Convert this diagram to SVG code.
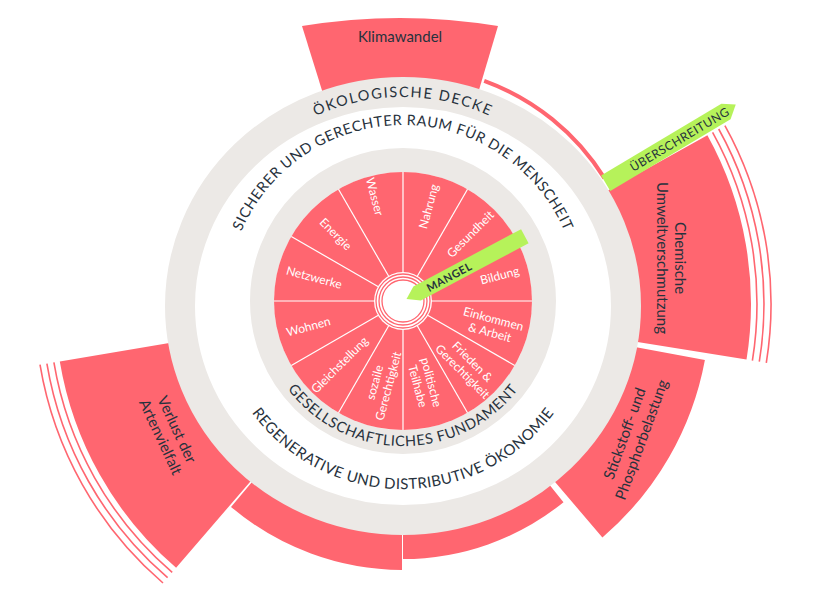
<svg xmlns="http://www.w3.org/2000/svg" width="813" height="600" viewBox="0 0 813 600">
<style>
.red{fill:#FF6670}
.ln{fill:none;stroke:#FF6670;stroke-width:1.6}
.dk{fill:#27323d;font-family:Lato,"Open Sans",sans-serif}
.wt{fill:#fff;font-family:Lato,"Open Sans",sans-serif;font-size:12px;text-anchor:middle;dominant-baseline:central}
.sep{stroke:#fff;stroke-width:1.2}
</style>
<rect width="813" height="600" fill="#fff"/>
<g id="boundaries">
<path id="klima" class="red" d="M302,26 A600,600 0 0 1 498,26 L476,100 L325,100 Z"/>
<path class="ln" d="M484.2,80.8 A237.5,237.5 0 0 1 604.4,178.1" style="stroke-width:4"/>
<path id="chem" class="red" d="M599.8,194.9 L707.4,135.3 A348,348 0 0 1 746.5,359.6 L625.1,340 A225,225 0 0 0 599.8,194.9 Z"/>
<path class="ln" d="M712.6,132.4 A354,354 0 0 1 752.4,360.6"/>
<path class="ln" d="M718.7,129 A361,361 0 0 1 759.3,361.7"/>
<path class="ln" d="M724.9,125.6 A368,368 0 0 1 766.3,362.8"/>
<path id="stick" class="red" d="M624.2,345 L704.9,359.9 A307,307 0 0 1 602.4,537.4 L549.1,475.1 A225,225 0 0 0 624.2,345 Z"/>
<path class="red" d="M544.6,478.8 L563.5,502.2 A255,255 0 0 1 403,559 L403,529 A225,225 0 0 0 544.6,478.8 Z"/>
<path class="red" d="M402,529 L402,570 A266,266 0 0 1 231,506.9 L257.5,475.6 A225,225 0 0 0 402,529 Z"/>
<path id="verlust" class="red" d="M256.3,474.6 L176.1,567.8 A348,348 0 0 1 59.8,361.4 L181.1,341.1 A225,225 0 0 0 256.3,474.6 Z"/>
<path class="ln" d="M172.2,572.4 A354,354 0 0 1 53.9,362.4"/>
<path class="ln" d="M167.6,577.7 A361,361 0 0 1 46.9,363.6"/>
<path class="ln" d="M163,583 A368,368 0 0 1 40,364.7"/>
</g>
<ellipse cx="403" cy="306" rx="223" ry="214" fill="#fff" stroke="#ECE9E6" stroke-width="30"/>
<circle cx="403" cy="301" r="141" fill="none" stroke="#ECE9E6" stroke-width="24"/>
<g id="social" transform="translate(0 1)">
<circle class="red" cx="403" cy="300" r="129"/>
<g class="sep">
<line x1="403" y1="272" x2="403" y2="171"/><line x1="403" y1="328" x2="403" y2="429"/>
<line x1="375" y1="300" x2="274" y2="300"/><line x1="431" y1="300" x2="532" y2="300"/>
<line x1="417" y1="275.8" x2="467.5" y2="188.3"/><line x1="389" y1="324.2" x2="338.5" y2="411.7"/>
<line x1="427.2" y1="286" x2="514.7" y2="235.5"/><line x1="378.8" y1="314" x2="291.3" y2="364.5"/>
<line x1="427.2" y1="314" x2="514.7" y2="364.5"/><line x1="378.8" y1="286" x2="291.3" y2="235.5"/>
<line x1="417" y1="324.2" x2="467.5" y2="411.7"/><line x1="389" y1="275.8" x2="338.5" y2="188.3"/>
</g>
<circle cx="403" cy="300" r="29" fill="#fff"/>
<circle cx="403" cy="300" r="27" fill="none" stroke="#FF6670" stroke-width="1.3"/>
<circle cx="403" cy="300" r="24" fill="none" stroke="#FF6670" stroke-width="1.3"/>
<circle cx="403" cy="300" r="21" fill="none" stroke="#FF6670" stroke-width="1.3"/>
<text class="wt" transform="translate(403 300) rotate(-75) translate(98 0)">Nahrung</text>
<text class="wt" transform="translate(403 300) rotate(-45) translate(95 0)">Gesundheit</text>
<text class="wt" transform="translate(403 300) rotate(-15) translate(100 0)">Bildung</text>
<text class="wt" transform="translate(403 300) rotate(15) translate(92 0)"><tspan x="0" dy="-7">Einkommen</tspan><tspan x="0" dy="14">&amp; Arbeit</tspan></text>
<text class="wt" transform="translate(403 300) rotate(45) translate(92 0)"><tspan x="0" dy="-7">Frieden &amp;</tspan><tspan x="0" dy="14">Gerechtigkeit</tspan></text>
<text class="wt" transform="translate(403 300) rotate(75) translate(86 0)"><tspan x="0" dy="-7">politische</tspan><tspan x="0" dy="14">Teilhabe</tspan></text>
<text class="wt" transform="translate(403 300) rotate(105) translate(86 0) rotate(180)"><tspan x="0" dy="-7">sozaile</tspan><tspan x="0" dy="14">Gerechtigkeit</tspan></text>
<text class="wt" transform="translate(403 300) rotate(135) translate(90 0) rotate(180)">Gleichstellung</text>
<text class="wt" transform="translate(403 300) rotate(165) translate(98 0) rotate(180)">Wohnen</text>
<text class="wt" transform="translate(403 300) rotate(195) translate(92 0) rotate(180)">Netzwerke</text>
<text class="wt" transform="translate(403 300) rotate(225) translate(95 0) rotate(180)">Energie</text>
<text class="wt" transform="translate(403 300) rotate(255) translate(108 0) rotate(180)">Wasser</text>
</g>
<defs>
<path id="pOk" d="M222,201.5 A209,209 0 0 1 584,201.5"/>
<path id="pSi" d="M229.7,270.4 A176,176 0 0 1 576.3,270.4"/>
<path id="pGe" d="M266.7,350.6 A145,145 0 0 0 539.3,350.6"/>
<path id="pRe" d="M226.3,365.3 A188,188 0 0 0 579.7,365.3"/>
</defs>
<g id="ringtexts">
<text class="dk" font-size="14.5" letter-spacing="1.6"><textPath href="#pOk" startOffset="50%" text-anchor="middle">ÖKOLOGISCHE DECKE</textPath></text>
<text class="dk" font-size="14.5" letter-spacing="0.6"><textPath href="#pSi" startOffset="50%" text-anchor="middle">SICHERER UND GERECHTER RAUM FÜR DIE MENSCHEIT</textPath></text>
<text class="dk" font-size="14.5" fill="#3a3f45" letter-spacing="0.6"><textPath href="#pGe" startOffset="50%" text-anchor="middle">GESELLSCHAFTLICHES FUNDAMENT</textPath></text>
<text class="dk" font-size="15" fill="#3a3f45" letter-spacing="0.4"><textPath href="#pRe" startOffset="50%" text-anchor="middle">REGENERATIVE UND DISTRIBUTIVE ÖKONOMIE</textPath></text>
</g>
<g id="mangel" transform="translate(403 301) rotate(-28)">
<polygon points="4,0 16,-8 138,-8 138,8 16,8" fill="#B6F25A"/>
<text class="dk" x="52" y="4.5" font-size="11" font-weight="bold" text-anchor="middle" letter-spacing="0.5">MANGEL</text>
</g>
<g id="ueberschreitung" transform="translate(403 304) rotate(-30.8)">
<polygon points="236,-9 376,-9 388,-1 376,9 236,9" fill="#B6F25A"/>
<text class="dk" x="322" y="4.5" font-size="12" text-anchor="middle" letter-spacing="0.5">ÜBERSCHREITUNG</text>
</g>
<g id="labels" class="dk" font-size="15" text-anchor="middle">
<text x="400" y="42">Klimawandel</text>
<text transform="translate(667 258) rotate(90)"><tspan x="0" y="-8">Chemische</tspan><tspan x="0" y="10">Umweltverschmutzung</tspan></text>
<text transform="translate(637 438) rotate(-70)"><tspan x="0" y="-8">Stickstoff- und</tspan><tspan x="0" y="10">Phosphorbelastung</tspan></text>
<text transform="translate(165 435) rotate(65)"><tspan x="0" y="-8">Verlust der</tspan><tspan x="0" y="10">Artenvielfalt</tspan></text>
</g>
</svg>
